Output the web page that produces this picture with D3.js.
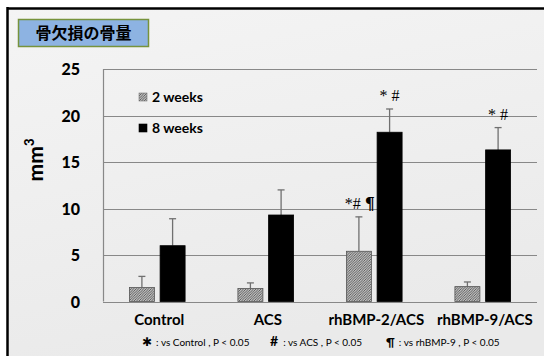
<!DOCTYPE html>
<html>
<head>
<meta charset="utf-8">
<script src="https://cdn.jsdelivr.net/npm/d3@7"></script>
<style>
  html, body { margin: 0; padding: 0; background: #ffffff; }
  svg { display: block; }
</style>
</head>
<body>
<svg id="chart" width="544" height="356"></svg>
<script>
// Bone volume in the defect (mm³), mean + SD, at 2 and 8 weeks
const categories = ["Control", "ACS", "rhBMP-2/ACS", "rhBMP-9/ACS"];
const seriesNames = ["2 weeks", "8 weeks"];
const week2Mean = [1.5, 1.4, 5.4, 1.6];
const week2Sd   = [1.2, 0.6, 3.7, 0.5];
const week8Mean = [6.0, 9.3, 18.2, 16.3];
const week8Sd   = [2.9, 2.7, 2.5, 2.4];
const yTicks = [0, 5, 10, 15, 20, 25];
// significance marks per category and series: [2 weeks, 8 weeks]
const marks = [["", ""], ["", ""], ["*#\u00A0\u00B6", "* #"], ["", "* #"]];
const footnotes = [
  { sym: "\u2731", text: ": vs Control , P < 0.05" },
  { sym: "#", text: ": vs ACS , P < 0.05" },
  { sym: "\u00B6", text: ": vs rhBMP-9 , P < 0.05" }
];

const svg = d3.select("#chart");
const W = 544, H = 356;
const sans = "Lato, 'Open Sans', 'Liberation Sans', sans-serif";
const serif = "'Liberation Serif', 'DejaVu Serif', serif";

// slide-like background with a black frame on top and left
const defs = svg.append("defs");
const bg = defs.append("linearGradient").attr("id", "bg").attr("x1", 0).attr("y1", 0).attr("x2", 0.3).attr("y2", 1);
bg.append("stop").attr("offset", "0%").attr("stop-color", "#f4f4f4");
bg.append("stop").attr("offset", "100%").attr("stop-color", "#eaeaea");
svg.append("rect").attr("x", 8).attr("y", 9).attr("width", W - 8).attr("height", H - 9).attr("fill", "url(#bg)");
svg.append("line").attr("x1", 7).attr("x2", W).attr("y1", 8.5).attr("y2", 8.5).attr("stroke", "#000").attr("stroke-width", 2.5);
svg.append("line").attr("x1", 7.5).attr("x2", 7.5).attr("y1", 7).attr("y2", H).attr("stroke", "#000").attr("stroke-width", 2.5);

// fine hatch pattern for the 2-week bars
const pat = defs.append("pattern").attr("id", "hatch").attr("patternUnits", "userSpaceOnUse")
  .attr("width", 2.5).attr("height", 2.5);
pat.append("rect").attr("width", 2.5).attr("height", 2.5).attr("fill", "#bdbdbd");
pat.append("path").attr("d", "M0,2.5 L2.5,0 M-1,1 L1,-1 M1.5,3.5 L3.5,1.5").attr("stroke", "#4a4a4a").attr("stroke-width", 0.8);

// title box
svg.append("rect").attr("x", 18.5).attr("y", 19.5).attr("width", 130).attr("height", 27)
  .attr("fill", "#8db3e2").attr("stroke", "#77933c").attr("stroke-width", 1.5);
svg.append("text").attr("x", 83.5).attr("y", 39).attr("text-anchor", "middle")
  .attr("font-family", "'Noto Sans CJK JP', sans-serif").attr("font-weight", "bold")
  .attr("font-size", 16).attr("fill", "#000").text("骨欠損の骨量");

// plot area
const x0 = 103, x1 = 537, yTop = 69, yBot = 301.5;
const x = d3.scaleBand().domain(categories).range([x0, x1]).padding(0);
const y = d3.scaleLinear().domain([0, 25]).range([yBot, yTop]);
const barW = 25, gap = 5.7;

const g = svg.append("g");
// gridlines
g.selectAll("line.grid").data(yTicks).join("line").attr("class", "grid")
  .attr("x1", x0).attr("x2", x1)
  .attr("y1", d => Math.round(y(d)) + 0.5).attr("y2", d => Math.round(y(d)) + 0.5)
  .attr("stroke", "#888").attr("stroke-width", 1.2);
g.append("line").attr("x1", x0 + 0.5).attr("x2", x0 + 0.5).attr("y1", y(25)).attr("y2", y(0))
  .attr("stroke", "#888").attr("stroke-width", 1.2);

// y axis labels
const yAxis = d3.axisLeft(y).tickValues(yTicks).tickSize(0).tickPadding(0);
const ya = svg.append("g").attr("transform", "translate(80,0)").call(yAxis);
ya.select(".domain").remove();
ya.selectAll("text").attr("font-family", sans).attr("font-weight", "900")
  .attr("font-size", 16).attr("fill", "#000").attr("dy", "0.35em");

// y axis title mm³
const yt = svg.append("text").attr("transform", "translate(43,160) rotate(-90)")
  .attr("text-anchor", "middle").attr("font-family", sans).attr("font-weight", "900")
  .attr("font-size", 21).attr("fill", "#000");
yt.append("tspan").text("mm");
yt.append("tspan").attr("font-size", 13).attr("dy", -9).text("3");

// bars
const rows = categories.map((c, i) => [
  { c, s: 0, v: week2Mean[i], sd: week2Sd[i], m: marks[i][0] },
  { c, s: 1, v: week8Mean[i], sd: week8Sd[i], m: marks[i][1] }
]).flat();
const barX = d => x(d.c) + x.bandwidth() / 2 + (d.s === 0 ? -(gap / 2 + barW) : gap / 2);

// error bars (upper only)
const eb = g.selectAll("g.eb").data(rows).join("g").attr("class", "eb");
eb.append("line").attr("x1", d => barX(d) + barW / 2).attr("x2", d => barX(d) + barW / 2)
  .attr("y1", d => y(d.v)).attr("y2", d => y(d.v + d.sd)).attr("stroke", "#707070").attr("stroke-width", 1.3);
eb.append("line").attr("x1", d => barX(d) + barW / 2 - 3.5).attr("x2", d => barX(d) + barW / 2 + 3.5)
  .attr("y1", d => y(d.v + d.sd)).attr("y2", d => y(d.v + d.sd)).attr("stroke", "#707070").attr("stroke-width", 1.3);

g.selectAll("rect.bar").data(rows).join("rect").attr("class", "bar")
  .attr("x", d => barX(d)).attr("width", barW)
  .attr("y", d => y(d.v)).attr("height", d => y(0) - y(d.v))
  .attr("fill", d => d.s === 0 ? "url(#hatch)" : "#000")
  .attr("stroke", d => d.s === 0 ? "#555" : "#000").attr("stroke-width", 0.8);

// significance marks; the pilcrow is drawn in its own bold span
const mk = g.selectAll("text.mark").data(rows.filter(d => d.m)).join("text").attr("class", "mark")
  .attr("x", d => barX(d) + barW / 2 + (d.s === 0 ? 1 : 0))
  .attr("y", d => y(d.v + d.sd) - 8)
  .attr("text-anchor", "middle").attr("font-family", serif)
  .attr("font-size", 16).attr("fill", "#000");
mk.each(function(d) {
  const t = d3.select(this);
  const pi = d.m.indexOf("\u00B6");
  if (pi < 0) { t.text(d.m); return; }
  t.append("tspan").text(d.m.slice(0, pi));
  t.append("tspan").attr("font-weight", "bold").attr("font-family", "'DejaVu Serif', serif")
    .attr("fill", "#000").text("\u00B6");
});

// x labels
svg.selectAll("text.xl").data(categories).join("text").attr("class", "xl")
  .attr("x", d => x(d) + x.bandwidth() / 2 + 2).attr("y", 325)
  .attr("text-anchor", "middle").attr("font-family", sans).attr("font-weight", "bold")
  .attr("font-size", 15).attr("fill", "#000").text(d => d);

// legend
const leg = svg.append("g");
seriesNames.forEach((s, i) => {
  const ly = 101 + i * 31;
  leg.append("rect").attr("x", 139).attr("y", ly - 8).attr("width", 8).attr("height", 8)
    .attr("fill", i === 0 ? "url(#hatch)" : "#000").attr("stroke", i === 0 ? "#777" : "#000").attr("stroke-width", 0.6);
  leg.append("text").attr("x", 152).attr("y", ly + 0.5).attr("font-family", sans)
    .attr("font-weight", "bold").attr("font-size", 14).attr("fill", "#000").text(s);
});

// footnote
const fx = [142, 270, 386];
footnotes.forEach((f, i) => {
  const t = svg.append("text").attr("x", fx[i]).attr("y", 346).attr("font-family", sans)
    .attr("font-size", 10).attr("fill", "#000");
  t.append("tspan").attr("font-weight", "bold").attr("font-size", i === 1 ? 14 : 12)
    .attr("font-family", i === 0 ? "'DejaVu Sans', sans-serif" : sans).text(f.sym);
  t.append("tspan").attr("dx", i === 1 ? 5 : 4).text(f.text);
});
</script>
</body>
</html>
